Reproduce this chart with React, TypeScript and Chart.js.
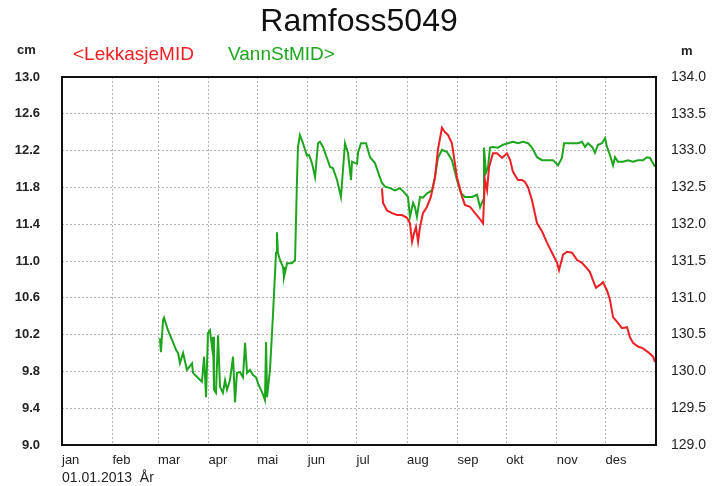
import React, { useEffect, useRef } from "react";
import { Chart, registerables } from "chart.js";

Chart.register(...registerables);

// Month starts (day of year) and names
const monthStarts = [0, 31, 59, 90, 120, 151, 181, 212, 243, 273, 304, 334];
const monthNames = ["jan", "feb", "mar", "apr", "mai", "jun", "jul", "aug", "sep", "okt", "nov", "des"];

const leftTicks = [9.0, 9.4, 9.8, 10.2, 10.6, 11.0, 11.4, 11.8, 12.2, 12.6, 13.0];
const rightTicks = [129.0, 129.5, 130.0, 130.5, 131.0, 131.5, 132.0, 132.5, 133.0, 133.5, 134.0];

// VannStMID (m) — day of year / value
const vannDays = [
  60.2, 60.8, 62.1, 62.7, 65.1, 67.6, 70.1, 71.3, 72.5, 74.4, 76.8, 79.9, 80.5, 83.6, 86.0, 87.3, 88.5, 89.7, 90.9, 92.2,
  92.8, 93.4, 94.6, 95.9, 97.1, 98.9, 100.2, 101.4, 103.2, 105.1, 106.3, 107.5, 109.4, 111.2, 112.5, 113.7, 115.5, 117.4, 119.2, 120.4,
  122.9, 124.7, 125.4, 126.0, 127.8, 129.7, 131.5, 132.1, 132.7, 134.0, 135.8, 136.4, 138.3, 141.3, 143.2, 144.4, 145.0, 146.2, 148.1, 150.5,
  151.8, 153.6, 155.5, 157.3, 158.5, 160.4, 162.8, 164.7, 166.5, 169.0, 171.4, 173.9, 175.7, 177.6, 178.2, 181.3, 181.9, 183.7, 186.8, 189.3,
  192.3, 194.2, 196.6, 198.5, 201.6, 204.6, 207.7, 210.8, 212.6, 213.8, 215.7, 216.9, 218.1, 220.0, 221.8, 224.3, 227.4, 229.2, 231.0, 233.5,
  236.6, 239.6, 242.7, 245.2, 247.6, 251.9, 255.0, 256.9, 258.7, 259.3, 260.5, 261.8, 263.0, 264.8, 267.9, 271.0, 274.1, 277.1, 280.2, 283.3,
  286.4, 288.8, 291.9, 295.0, 298.0, 301.7, 304.8, 307.2, 308.5, 310.9, 314.0, 317.1, 319.5, 321.4, 323.2, 325.7, 327.5, 329.4, 331.8, 333.7,
  334.9, 336.7, 338.6, 339.8, 341.6, 344.7, 347.8, 350.9, 353.9, 357.0, 359.5, 361.3, 364.4,
];
const vannValues = [
  130.45, 130.26, 130.70, 130.73, 130.56, 130.43, 130.29, 130.25, 130.11, 130.25, 130.02, 130.11, 129.98, 129.91, 129.86, 130.20, 129.65, 130.52, 130.56, 130.33,
  130.47, 129.75, 129.71, 130.49, 129.79, 129.71, 129.88, 129.75, 129.88, 130.20, 129.58, 129.98, 129.99, 129.92, 130.39, 129.98, 130.02, 129.95, 129.92, 129.84,
  129.72, 129.61, 130.40, 129.65, 130.02, 130.79, 131.61, 131.89, 131.61, 131.51, 131.42, 131.28, 131.47, 131.47, 131.51, 132.60, 133.05, 133.21, 133.10, 132.93,
  132.94, 132.83, 132.64, 133.10, 133.12, 133.05, 132.90, 132.78, 132.76, 132.60, 132.37, 133.10, 132.97, 132.60, 132.85, 132.82, 132.97, 133.10, 133.10, 132.91,
  132.83, 132.71, 132.56, 132.51, 132.49, 132.46, 132.49, 132.42, 132.37, 132.10, 132.29, 132.23, 132.10, 132.37, 132.36, 132.42, 132.46, 132.64, 132.90, 133.01,
  132.98, 132.87, 132.60, 132.42, 132.37, 132.37, 132.40, 132.23, 132.33, 133.04, 132.70, 132.78, 133.04, 133.05, 133.04, 133.08, 133.10, 133.12, 133.10, 133.12,
  133.10, 133.04, 132.91, 132.87, 132.87, 132.87, 132.80, 132.90, 133.10, 133.10, 133.10, 133.10, 133.12, 133.05, 133.10, 133.05, 132.97, 133.08, 133.10, 133.17,
  133.05, 132.94, 132.80, 132.91, 132.85, 132.85, 132.87, 132.85, 132.87, 132.87, 132.91, 132.90, 132.78,
];

// LekkasjeMID (cm) — day of year / value
const lekkDays = [
  196.6, 197.3, 199.7, 202.8, 205.9, 208.9, 212.0, 213.8, 215.1, 216.3, 217.5, 218.8, 220.0, 221.8, 224.3, 226.7, 229.2, 231.0, 233.5, 235.3,
  237.2, 239.6, 242.7, 245.8, 247.6, 250.7, 253.8, 256.2, 258.7, 259.9, 261.2, 262.4, 264.8, 267.3, 270.4, 273.4, 275.3, 277.1, 280.2, 282.7,
  284.5, 286.4, 288.8, 291.9, 295.0, 298.0, 301.1, 304.2, 305.4, 307.9, 310.3, 313.4, 316.5, 319.5, 322.6, 324.4, 326.3, 328.1, 330.6, 332.4,
  334.9, 336.7, 338.6, 341.0, 344.1, 347.2, 349.0, 350.9, 353.9, 357.0, 360.1, 363.2, 364.4,
];
const lekkValues = [
  11.79, 11.63, 11.55, 11.52, 11.50, 11.50, 11.47, 11.41, 11.21, 11.30, 11.37, 11.21, 11.37, 11.52, 11.59, 11.70, 11.91, 12.21, 12.45, 12.40,
  12.37, 12.28, 11.91, 11.70, 11.61, 11.59, 11.52, 11.47, 11.41, 11.88, 11.77, 12.02, 12.17, 12.17, 12.12, 12.17, 12.10, 11.97, 11.88, 11.88,
  11.86, 11.80, 11.66, 11.41, 11.32, 11.20, 11.09, 10.98, 10.90, 11.07, 11.10, 11.09, 11.01, 10.98, 10.92, 10.88, 10.79, 10.71, 10.74, 10.77,
  10.68, 10.58, 10.39, 10.34, 10.27, 10.28, 10.17, 10.11, 10.07, 10.05, 10.01, 9.96, 9.90,
];

const RED = "rgb(236,32,36)";
const GREEN = "rgb(30,165,30)";
const FONT = "'Liberation Sans', Arial, sans-serif";

const textPlugin = {
  id: "textPlugin",
  afterDraw(chart: any) {
    const ctx = chart.ctx;
    const a = chart.chartArea;
    ctx.save();
    // plot frame
    ctx.strokeStyle = "#111";
    ctx.lineWidth = 2;
    ctx.strokeRect(a.left, a.top, a.right - a.left, a.bottom - a.top);
    ctx.textBaseline = "middle";
    // title
    ctx.fillStyle = "#111";
    ctx.font = `32px ${FONT}`;
    ctx.textAlign = "center";
    ctx.fillText("Ramfoss5049", (a.left + a.right) / 2, 22);
    // unit labels
    ctx.font = `bold 13px ${FONT}`;
    ctx.fillStyle = "#222";
    ctx.textAlign = "left";
    ctx.fillText("cm", 17, 50);
    ctx.fillText("m", 681, 51);
    // legend
    ctx.font = `19px ${FONT}`;
    ctx.fillStyle = RED;
    ctx.fillText("<LekkasjeMID", 73, 55);
    ctx.fillStyle = GREEN;
    ctx.fillText("VannStMID>", 228, 55);
    // date
    ctx.font = `14px ${FONT}`;
    ctx.fillStyle = "#222";
    ctx.fillText("01.01.2013  År", a.left, 478);
    ctx.restore();
  },
};

export default function App() {
  const ref = useRef<HTMLCanvasElement | null>(null);
  useEffect(() => {
    if (!ref.current) return;
    const chart = new Chart(ref.current, {
      type: "line",
      data: {
        datasets: [
          {
            label: "LekkasjeMID",
            data: lekkDays.map((d, i) => ({ x: d, y: lekkValues[i] })),
            borderColor: RED,
            borderWidth: 2,
            pointRadius: 0,
            yAxisID: "y",
            tension: 0,
          },
          {
            label: "VannStMID",
            data: vannDays.map((d, i) => ({ x: d, y: vannValues[i] })),
            borderColor: GREEN,
            borderWidth: 2,
            pointRadius: 0,
            yAxisID: "y2",
            tension: 0,
          },
        ],
      },
      options: {
        responsive: false,
        animation: false,
        layout: { padding: { top: 77, left: 0, right: 0, bottom: 0 } },
        plugins: { legend: { display: false }, title: { display: false }, tooltip: { enabled: false } },
        scales: {
          x: {
            type: "linear",
            min: 0,
            max: 365,
            afterBuildTicks: (s: any) => {
              s.ticks = monthStarts.map((v) => ({ value: v }));
            },
            afterFit: (s: any) => {
              s.height = 41;
            },
            ticks: {
              autoSkip: false,
              maxRotation: 0,
              align: "start",
              padding: 8,
              color: "#222",
              font: { family: FONT, size: 13 },
              callback: (v: any) => monthNames[monthStarts.indexOf(Number(v))] ?? "",
            },
            grid: { color: "#b5b5b5", lineWidth: 1, drawTicks: false },
            border: { display: false, dash: [2, 2] },
          },
          y: {
            position: "left",
            min: 9,
            max: 13,
            afterBuildTicks: (s: any) => {
              s.ticks = leftTicks.map((v) => ({ value: v }));
            },
            afterFit: (s: any) => {
              s.width = 62;
            },
            ticks: {
              padding: 22,
              color: "#222",
              font: { family: FONT, size: 13, weight: "bold" },
              callback: (v: any) => Number(v).toFixed(1),
            },
            grid: { color: "#b5b5b5", lineWidth: 1, drawTicks: false },
            border: { display: false, dash: [2, 2] },
          },
          y2: {
            position: "right",
            min: 129,
            max: 134,
            afterBuildTicks: (s: any) => {
              s.ticks = rightTicks.map((v) => ({ value: v }));
            },
            afterFit: (s: any) => {
              s.width = 57;
            },
            ticks: {
              padding: 15,
              color: "#222",
              font: { family: FONT, size: 14 },
              callback: (v: any) => Number(v).toFixed(1),
            },
            grid: { display: false, drawTicks: false },
            border: { display: false },
          },
        },
      },
      plugins: [textPlugin],
    });
    return () => chart.destroy();
  }, []);
  return (
    <div style={{ position: "absolute", left: 0, top: 0, width: 713, height: 486, background: "#fff" }}>
      <canvas ref={ref} width={713} height={486} />
    </div>
  );
}
